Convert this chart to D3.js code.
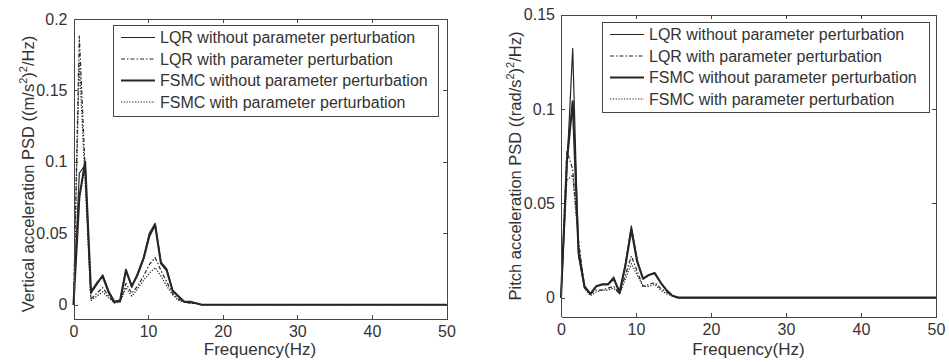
<!DOCTYPE html>
<html lang="en">

<head>
  <meta charset="utf-8">
  <title>PSD comparison</title>
  <script src="https://cdn.jsdelivr.net/npm/d3@7"></script>
  <style>
    body {
      margin: 0;
      background: #fff;
    }

    svg text {
      font-family: "Liberation Sans", Arial, sans-serif;
      fill: #333;
    }

    .axis path,
    .axis line {
      fill: none;
      stroke: #444;
      shape-rendering: crispEdges;
    }

    .axis text {
      font-size: 16px;
    }
  </style>
</head>

<body>
  <div id="chart"></div>
  <script>
    // frequency points (Hz)
    const freq = [0, 0.78, 1.56, 2.34, 3.13, 3.91, 4.69, 5.47, 6.25, 7.03, 7.81, 8.59, 9.38,
      10.16, 10.94, 11.72, 12.5, 13.28, 14.06, 14.84, 15.63, 16.41, 17.19, 50]

    const seriesNames = [
      'LQR without parameter perturbation',
      'LQR with parameter perturbation',
      'FSMC without parameter perturbation',
      'FSMC with parameter perturbation'
    ]

    // vertical acceleration PSD
    const vertLqr = [0, 0.092, 0.098, 0.008, 0.014, 0.021, 0.010, 0.002, 0.003, 0.025, 0.012, 0.022, 0.033,
      0.050, 0.057, 0.030, 0.025, 0.010, 0.006, 0.002, 0.002, 0.001, 0, 0]
    const vertLqrP = [0, 0.188, 0.095, 0.004, 0.008, 0.012, 0.006, 0.002, 0.002, 0.015, 0.008, 0.013, 0.020,
      0.028, 0.033, 0.024, 0.016, 0.008, 0.004, 0.002, 0.001, 0.001, 0, 0]
    const vertFsmc = [0, 0.075, 0.100, 0.009, 0.015, 0.020, 0.009, 0.002, 0.003, 0.024, 0.013, 0.021, 0.032,
      0.048, 0.056, 0.029, 0.024, 0.010, 0.006, 0.002, 0.002, 0.001, 0, 0]
    const vertFsmcP = [0, 0.170, 0.085, 0.003, 0.006, 0.009, 0.005, 0.001, 0.002, 0.012, 0.006, 0.011, 0.017,
      0.022, 0.026, 0.020, 0.013, 0.007, 0.003, 0.002, 0.001, 0.001, 0, 0]

    // pitch acceleration PSD
    const pitchLqr = [0, 0.068, 0.132, 0.022, 0.005, 0.002, 0.006, 0.007, 0.007, 0.011, 0.002, 0.018, 0.038,
      0.020, 0.010, 0.012, 0.013, 0.008, 0.004, 0.001, 0, 0, 0, 0]
    const pitchLqrP = [0, 0.078, 0.068, 0.030, 0.006, 0.002, 0.004, 0.004, 0.005, 0.006, 0.002, 0.012, 0.022,
      0.014, 0.006, 0.007, 0.008, 0.005, 0.003, 0.001, 0, 0, 0, 0]
    const pitchFsmc = [0, 0.072, 0.104, 0.024, 0.006, 0.002, 0.006, 0.007, 0.007, 0.010, 0.003, 0.017, 0.036,
      0.019, 0.010, 0.012, 0.013, 0.008, 0.004, 0.001, 0, 0, 0, 0]
    const pitchFsmcP = [0, 0.062, 0.065, 0.028, 0.005, 0.001, 0.003, 0.004, 0.004, 0.005, 0.002, 0.010, 0.018,
      0.012, 0.006, 0.006, 0.007, 0.004, 0.002, 0.001, 0, 0, 0, 0]

    const xTicks = [0, 10, 20, 30, 40, 50]
    const yTicksVert = [0, 0.05, 0.1, 0.15, 0.2]
    const yTicksPitch = [0, 0.05, 0.1, 0.15]

    // line styles per series: thin solid, dash-dot, thick solid, dotted
    const styles = [
      { width: 1.2, dash: null },
      { width: 1.2, dash: '4,2,1.5,2' },
      { width: 2.1, dash: null },
      { width: 1.2, dash: '1.3,1.5' }
    ]

    const svg = d3.select('#chart')
      .append('svg')
      .attr('width', 949)
      .attr('height', 362)

    function drawPanel(cfg) {
      const x = d3.scaleLinear().domain([0, 50]).range([cfg.left, cfg.right])
      const y = d3.scaleLinear().domain(cfg.yDomain).range([cfg.bottom, cfg.top])
      const g = svg.append('g')

      // data lines
      const line = d3.line()
        .x((d, i) => x(freq[i]))
        .y(d => y(d))
      cfg.series.forEach((s, i) => {
        g.append('path')
          .attr('d', line(s))
          .attr('fill', 'none')
          .attr('stroke', '#262626')
          .attr('stroke-width', styles[i].width)
          .attr('stroke-dasharray', styles[i].dash)
          .attr('stroke-linejoin', 'round')
      })

      // axes (ticks point inward like matlab)
      g.append('g').attr('class', 'axis')
        .attr('transform', `translate(0,${cfg.bottom})`)
        .call(d3.axisBottom(x).tickValues(xTicks).tickSizeInner(-4).tickSizeOuter(0).tickPadding(7).tickFormat(d3.format('d')))
      g.append('g').attr('class', 'axis')
        .attr('transform', `translate(0,${cfg.top})`)
        .call(d3.axisTop(x).tickValues(xTicks).tickSizeInner(-4).tickSizeOuter(0).tickFormat(''))
      g.append('g').attr('class', 'axis')
        .attr('transform', `translate(${cfg.left},0)`)
        .call(d3.axisLeft(y).tickValues(cfg.yTicks).tickSizeInner(-4).tickSizeOuter(0).tickPadding(6).tickFormat(d => String(d)))
      g.append('g').attr('class', 'axis')
        .attr('transform', `translate(${cfg.right},0)`)
        .call(d3.axisRight(y).tickValues(cfg.yTicks).tickSizeInner(-4).tickSizeOuter(0).tickFormat(''))

      // axis titles
      g.append('text')
        .attr('x', (cfg.left + cfg.right) / 2)
        .attr('y', 355)
        .attr('text-anchor', 'middle')
        .style('font-size', '17px')
        .text('Frequency(Hz)')

      const yt = g.append('text')
        .attr('transform', `translate(${cfg.yLabelX},${cfg.yLabelY}) rotate(-90)`)
        .attr('text-anchor', 'middle')
        .style('font-size', '16.5px')
      yt.append('tspan').text(cfg.yLabel + ' ((' + cfg.unit + '/s')
      yt.append('tspan').attr('dy', -7).style('font-size', '11px').text('2')
      yt.append('tspan').attr('dy', 7).text(')')
      yt.append('tspan').attr('dy', -7).style('font-size', '11px').text('2')
      yt.append('tspan').attr('dy', 7).text('/Hz)')

      // legend
      const lg = g.append('g')
      lg.append('rect')
        .attr('x', cfg.legend.x)
        .attr('y', cfg.legend.y)
        .attr('width', cfg.legend.w)
        .attr('height', cfg.legend.h)
        .attr('fill', '#fff')
        .attr('stroke', '#444')
        .attr('shape-rendering', 'crispEdges')
      seriesNames.forEach((name, i) => {
        const ry = cfg.legend.y + 12.5 + i * 21.5
        lg.append('line')
          .attr('x1', cfg.legend.x + 8)
          .attr('x2', cfg.legend.x + 42)
          .attr('y1', ry)
          .attr('y2', ry)
          .attr('stroke', '#262626')
          .attr('stroke-width', styles[i].width)
          .attr('stroke-dasharray', styles[i].dash)
        lg.append('text')
          .attr('x', cfg.legend.x + 47)
          .attr('y', ry + 5.5)
          .style('font-size', '16px')
          .text(name)
      })
    }

    drawPanel({
      left: 73.5, right: 446.5, top: 19, bottom: 319,
      yDomain: [-0.01, 0.2], yTicks: yTicksVert,
      series: [vertLqr, vertLqrP, vertFsmc, vertFsmcP],
      yLabel: 'Vertical acceleration PSD', unit: 'm', yLabelX: 34, yLabelY: 174,
      legend: { x: 113, y: 25, w: 325, h: 91 }
    })

    drawPanel({
      left: 561, right: 936, top: 14.5, bottom: 316.5,
      yDomain: [-0.01, 0.15], yTicks: yTicksPitch,
      series: [pitchLqr, pitchLqrP, pitchFsmc, pitchFsmcP],
      yLabel: 'Pitch acceleration PSD', unit: 'rad', yLabelX: 521, yLabelY: 166,
      legend: { x: 602, y: 22, w: 327, h: 90 }
    })
  </script>
</body>

</html>
